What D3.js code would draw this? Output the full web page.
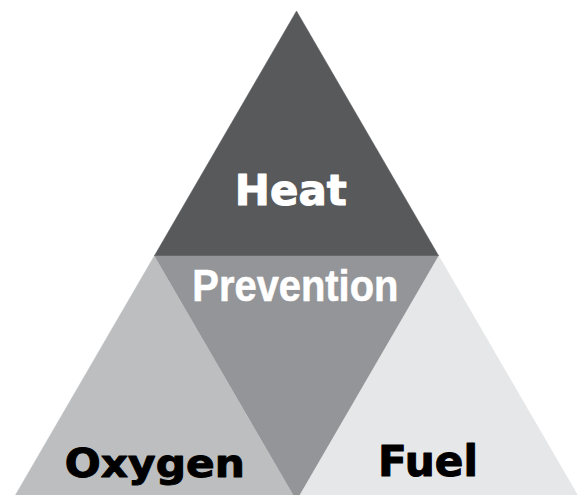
<!DOCTYPE html>
<html>
<head>
<meta charset="utf-8">
<script src="https://cdn.jsdelivr.net/npm/d3@7"></script>
<style>
  html, body { margin: 0; padding: 0; background: #fff; overflow: hidden; }
  svg { display: block; }
</style>
</head>
<body>
<script>
// the four parts of the fire triangle
var labels = ["Heat", "Prevention", "Oxygen", "Fuel"]
var fills = ["#58595b", "#939598", "#bcbec0", "#e6e7e8"]
var textColors = ["#fff", "#fff", "#000", "#000"]
// corners of each piece in unit-triangle coordinates (base 0..1, height 0..1)
var pieces = [
  [[0.5, 1], [0.25, 0.5], [0.75, 0.5]],
  [[0.25, 0.5], [0.75, 0.5], [0.5, 0]],
  [[0, 0], [0.25, 0.5], [0.5, 0]],
  [[0.5, 0], [0.75, 0.5], [1, 0]]
]
// label anchor (unit coords) and rendered text box
var labelPos = [[0.49, 0.604], [0.498, 0.408], [0.251, 0.049], [0.731, 0.051]]
var labelSize = [42, 44, 39, 42]
var labelWidth = [112, 206, 180, 100]

var svgWidth = 579
var svgHeight = 495

var x = d3.scaleLinear().domain([0, 1]).range([12, 581])
var y = d3.scaleLinear().domain([0, 1]).range([501, 11])

var svg = d3.select("body")
  .append("svg")
  .attr("width", svgWidth)
  .attr("height", svgHeight)

var line = d3.line().x(d => x(d[0])).y(d => y(d[1])).curve(d3.curveLinearClosed)

svg.selectAll(".piece")
  .data(pieces)
  .enter()
  .append("path")
  .attr("class", "piece")
  .attr("d", d => line(d))
  .attr("fill", (d, i) => fills[i])
  .attr("stroke", (d, i) => fills[i])
  .attr("stroke-width", 0.5)

// heavier strokes to get closer to the black-weight lettering
svg.selectAll(".label")
  .data(labels)
  .enter()
  .append("text")
  .attr("class", "label")
  .attr("x", (d, i) => x(labelPos[i][0]))
  .attr("y", (d, i) => y(labelPos[i][1]))
  .attr("text-anchor", "middle")
  .attr("fill", (d, i) => textColors[i])
  .attr("stroke", (d, i) => textColors[i])
  .attr("stroke-width", (d, i) => i == 1 ? 0.6 : 1)
  .attr("stroke-linejoin", "round")
  .attr("font-family", (d, i) => i == 1 ? "'Liberation Sans', Arial, sans-serif" : "'DejaVu Sans', sans-serif")
  .attr("font-weight", "bold")
  .attr("font-size", (d, i) => labelSize[i] + "px")
  .attr("textLength", (d, i) => labelWidth[i])
  .attr("lengthAdjust", "spacingAndGlyphs")
  .text(d => d)
</script>
</body>
</html>
